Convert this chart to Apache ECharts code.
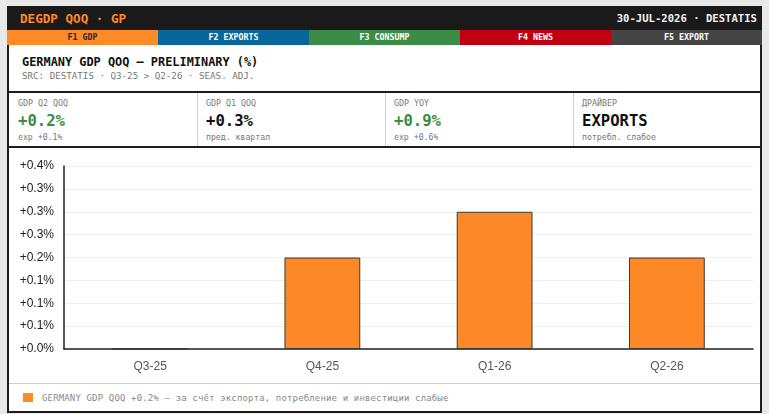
<!DOCTYPE html>
<html>
<head>
<meta charset="utf-8">
<script src="https://cdn.jsdelivr.net/npm/echarts@6/dist/echarts.min.js"></script>
<style>
  html,body{margin:0;padding:0;width:769px;height:414px;background:#e9e9e9;overflow:hidden;}
  .abs{position:absolute;box-sizing:border-box;}
  .mono{font-family:"DejaVu Sans Mono",monospace;}
  #frame{left:7px;top:6px;width:755px;height:407px;border:2px solid #1c1c1c;background:#fff;}
  #hdr{left:7px;top:6px;width:755px;height:24px;background:#1a1a1a;}
  #hdrL{left:20px;top:6px;height:24px;line-height:25px;color:#ff8a26;font-weight:bold;font-size:12.6px;}
  #hdrR{right:12px;top:6px;height:24px;line-height:25px;color:#f2f2f2;font-weight:bold;font-size:10.6px;}
  .tab{top:30px;height:15px;line-height:15px;text-align:center;font-weight:bold;font-size:8.3px;color:#fff;}
  #ttl{left:22px;top:54px;font-weight:bold;font-size:11.9px;color:#111;line-height:16px;}
  #sub{left:22px;top:70px;font-size:9.2px;color:#777;line-height:12px;}
  .hline{height:2px;background:#1c1c1c;left:9px;width:751px;}
  .kpi{top:93px;height:53px;}
  .kl{position:absolute;left:9px;top:5px;font-size:8.3px;color:#777;}
  .kv{position:absolute;left:9px;top:19px;font-size:15.6px;font-weight:bold;}
  .ks{position:absolute;left:9px;top:39px;font-size:8.2px;color:#777;}
  .vsep{top:93px;width:1px;height:53px;background:#cfcfcf;}
  #chart{left:9px;top:148px;width:751px;height:235px;}
  #foot{left:9px;top:383px;width:751px;height:28px;border-top:1px solid #cfcfcf;}
  #footMark{position:absolute;left:14px;top:9px;width:10px;height:9px;background:#ff8a26;}
  #footTxt{position:absolute;left:33px;top:8px;font-size:9px;color:#888;line-height:12px;letter-spacing:0.15px;}
</style>
</head>
<body>
<div id="frame" class="abs"></div>
<div id="hdr" class="abs"></div>
<div id="hdrL" class="abs mono">DEGDP QOQ · GP</div>
<div id="hdrR" class="abs mono">30-JUL-2026 · DESTATIS</div>
<div id="tabs"></div>
<div id="ttl" class="abs mono">GERMANY GDP QOQ — PRELIMINARY (%)</div>
<div id="sub" class="abs mono">SRC: DESTATIS · Q3-25 &gt; Q2-26 · SEAS. ADJ.</div>
<div class="abs hline" style="top:91px"></div>
<div id="kpis"></div>
<div class="abs hline" style="top:146px"></div>
<div id="chart" class="abs"></div>
<div id="foot" class="abs mono"><div id="footMark"></div><div id="footTxt"></div></div>
<script>
// ---- data ----
const categories = ['Q3-25', 'Q4-25', 'Q1-26', 'Q2-26'];
const gdpQoq = [0.0, 0.2, 0.3, 0.2];
const axisMin = 0, axisMax = 0.4, axisStep = 0.05;

const tabLabels = ['F1 GDP', 'F2 EXPORTS', 'F3 CONSUMP', 'F4 NEWS', 'F5 EXPORT'];
const tabColors = ['#ff8a26', '#08669a', '#3b8c44', '#c1000f', '#444444'];
const tabText   = ['#2a2a2a', '#ffffff', '#ffffff', '#ffffff', '#ffffff'];

const kpiLabels = ['GDP Q2 QOQ', 'GDP Q1 QOQ', 'GDP YOY', 'ДРАЙВЕР'];
const kpiValues = ['+0.2%', '+0.3%', '+0.9%', 'EXPORTS'];
const kpiSubs   = ['exp +0.1%', 'пред. квартал', 'exp +0.6%', 'потребл. слабое'];
const kpiColors = ['#3b8c3f', '#111111', '#3b8c3f', '#111111'];

const footText = 'GERMANY GDP QOQ +0.2% — за счёт экспорта, потребление и инвестиции слабые';

// ---- chrome ----
const tabsEl = document.getElementById('tabs');
const tabX = [7, 158, 309, 460, 611, 762];
tabLabels.forEach((t, i) => {
  const d = document.createElement('div');
  d.className = 'abs mono tab';
  d.style.left = tabX[i] + 'px';
  d.style.width = (tabX[i + 1] - tabX[i]) + 'px';
  d.style.background = tabColors[i];
  d.style.color = tabText[i];
  d.textContent = t;
  tabsEl.appendChild(d);
});
const kpiEl = document.getElementById('kpis');
const kpiX = [9, 197, 385, 573, 760];
kpiLabels.forEach((l, i) => {
  const c = document.createElement('div');
  c.className = 'abs mono kpi';
  c.style.left = kpiX[i] + 'px';
  c.style.width = (kpiX[i + 1] - kpiX[i]) + 'px';
  c.innerHTML = '<div class="kl"></div><div class="kv"></div><div class="ks"></div>';
  c.querySelector('.kl').textContent = l;
  const v = c.querySelector('.kv');
  v.textContent = kpiValues[i];
  v.style.color = kpiColors[i];
  c.querySelector('.ks').textContent = kpiSubs[i];
  kpiEl.appendChild(c);
  if (i > 0) {
    const s = document.createElement('div');
    s.className = 'abs vsep';
    s.style.left = kpiX[i] + 'px';
    kpiEl.appendChild(s);
  }
});
document.getElementById('footTxt').textContent = footText;

// ---- chart ----
const chart = echarts.init(document.getElementById('chart'), null, {renderer: 'canvas'});
chart.setOption({
  animation: false,
  backgroundColor: '#ffffff',
  grid: {left: 55, right: 7, top: 18, bottom: 34},
  xAxis: {
    type: 'category',
    data: categories,
    axisLine: {show: true, lineStyle: {color: '#222', width: 1.5}},
    axisTick: {show: false},
    axisLabel: {color: '#555', fontSize: 12, margin: 12, fontFamily: 'Liberation Sans, Arial, sans-serif'},
    splitLine: {show: false}
  },
  yAxis: {
    type: 'value',
    min: axisMin, max: axisMax, interval: axisStep,
    axisLine: {show: true, lineStyle: {color: '#222', width: 1.5}},
    axisTick: {show: false},
    axisLabel: {
      color: '#222', fontSize: 12, margin: 10, fontFamily: 'Liberation Sans, Arial, sans-serif',
      formatter: v => '+' + v.toFixed(1) + '%'
    },
    splitLine: {show: true, lineStyle: {color: '#eeeeee', width: 1}}
  },
  series: [{
    type: 'bar',
    data: gdpQoq,
    barWidth: '44%',
    itemStyle: {color: '#fd8827', borderColor: '#3a3a3a', borderWidth: 1}
  }]
});
</script>
</body>
</html>
